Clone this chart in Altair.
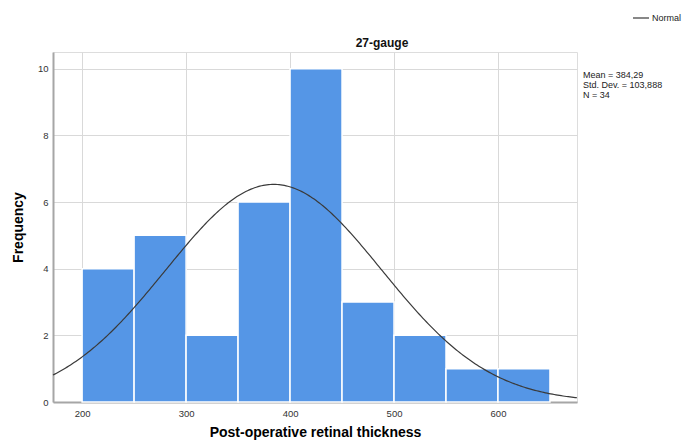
import altair as alt
import pandas as pd
import numpy as np

# ---- data ----
bin_start = [200, 250, 300, 350, 400, 450, 500, 550, 600]
bin_end = [250, 300, 350, 400, 450, 500, 550, 600, 650]
counts = [4, 5, 2, 6, 10, 3, 2, 1, 1]
mean_val = 384.29
sd_val = 103.888
n_val = 34
bin_width = 50
x_domain = [172, 676]
y_domain = [0, 10.5]
x_ticks = [200, 300, 400, 500, 600]
y_ticks = [0, 2, 4, 6, 8, 10]
stats_lines = ["Mean = 384,29", "Std. Dev. = 103,888", "N = 34"]
chart_title = "27-gauge"
legend_label = "Normal"
x_title = "Post-operative retinal thickness"
y_title = "Frequency"

bars_df = pd.DataFrame({"start": bin_start, "end": bin_end, "count": counts})

# normal curve defined by the stated mean / std. dev. / N, scaled to bin width
xs = np.linspace(x_domain[0], x_domain[1], 300)
ys = n_val * bin_width * np.exp(-0.5 * ((xs - mean_val) / sd_val) ** 2) / (sd_val * np.sqrt(2 * np.pi))
curve_df = pd.DataFrame({"x": xs, "y": ys})

FONT = "Liberation Sans"

x_scale = alt.Scale(domain=x_domain, nice=False, zero=False)
y_scale = alt.Scale(domain=y_domain, nice=False, zero=True)

x_axis = alt.Axis(values=x_ticks, title=x_title, grid=True, gridColor="#D9D9D9",
                  domainColor="#A6A6A6", domainWidth=2, ticks=False, tickSize=0,
                  labelFontSize=9.5, labelColor="#333333", labelPadding=6,
                  titleFontSize=14, titleFontWeight="bold", titleColor="#000000",
                  titlePadding=8, labelFont=FONT, titleFont=FONT)
y_axis = alt.Axis(values=y_ticks, title=y_title, grid=True, gridColor="#D9D9D9",
                  domainColor="#A6A6A6", domainWidth=2, ticks=False, tickSize=0,
                  labelFontSize=9.5, labelColor="#333333", labelPadding=5,
                  titleFontSize=14, titleFontWeight="bold", titleColor="#000000",
                  titlePadding=12, labelFont=FONT, titleFont=FONT)

bars = alt.Chart(bars_df).mark_bar(color="#5596E6", stroke="#FFFFFF", strokeWidth=1.5).encode(
    x=alt.X("start:Q", scale=x_scale, axis=x_axis),
    x2="end:Q",
    y=alt.Y("count:Q", scale=y_scale, axis=y_axis),
    y2=alt.datum(0),
)

curve = alt.Chart(curve_df).mark_line(color="#3A3A3A", strokeWidth=1.2).encode(
    x=alt.X("x:Q", scale=x_scale, title=x_title),
    y=alt.Y("y:Q", scale=y_scale, title=y_title),
)

one = pd.DataFrame({"a": [0]})

title_txt = alt.Chart(one).mark_text(text=chart_title, font=FONT, fontSize=12, fontWeight="bold",
                                     align="center", baseline="middle", color="#111111").encode(
    x=alt.value(329), y=alt.value(-9))

stats_txt = alt.Chart(one).mark_text(text=stats_lines, font=FONT, fontSize=9, lineHeight=10,
                                     align="left", baseline="top", color="#222222").encode(
    x=alt.value(530), y=alt.value(19))

legend_line = alt.Chart(one).mark_rule(color="#3A3A3A", strokeWidth=1.2).encode(
    x=alt.value(580), x2=alt.value(596), y=alt.value(-34))

legend_txt = alt.Chart(one).mark_text(text=legend_label, font=FONT, fontSize=9,
                                      align="left", baseline="middle", color="#222222").encode(
    x=alt.value(599), y=alt.value(-34))

chart = alt.layer(bars, curve, title_txt, stats_txt, legend_line, legend_txt).properties(
    width=524, height=350,
    autosize=alt.AutoSizeParams(type="none"),
    padding={"left": 45, "top": 44, "right": 105, "bottom": 38},
).configure_view(strokeWidth=0).configure(background="white")

chart.save("out.html", embed_options={"renderer": "svg", "actions": False})
